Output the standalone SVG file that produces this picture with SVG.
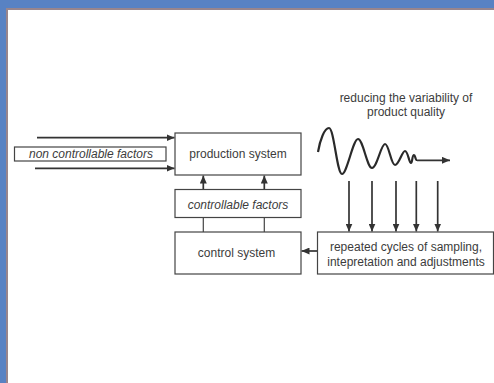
<svg xmlns="http://www.w3.org/2000/svg" width="494" height="383" viewBox="0 0 494 383">
<style>
.box{fill:#fff;stroke:#444;stroke-width:1.2}
.t{font-family:"Liberation Sans",Arial,sans-serif;font-size:12px;fill:#3c3c3c;text-anchor:middle}
.i{font-style:italic}
.ln{stroke:#333;stroke-width:1.7;fill:none}
.th{stroke:#444;stroke-width:1.2;fill:none}
</style>
<defs>
<marker id="ah" markerUnits="userSpaceOnUse" markerWidth="8" markerHeight="7" refX="8" refY="3.5" orient="auto">
<path d="M0,0 L8,3.5 L0,7 z" fill="#333"/>
</marker>
</defs>
<rect x="0" y="0" width="494" height="383" fill="#5882c3"/>
<rect x="6" y="8" width="488" height="375" fill="#98858c"/>
<rect x="8" y="10" width="486" height="373" fill="#fff"/>

<g id="connectors">
<line class="ln" x1="37" y1="137.7" x2="174.5" y2="137.7" marker-end="url(#ah)"/>
<line class="ln" x1="35" y1="168.3" x2="174.5" y2="168.3" marker-end="url(#ah)"/>
<line class="ln" x1="203.3" y1="189.5" x2="203.3" y2="175.5" marker-end="url(#ah)"/>
<line class="ln" x1="264.3" y1="189.5" x2="264.3" y2="175.5" marker-end="url(#ah)"/>
<line class="th" x1="203.3" y1="218" x2="203.3" y2="232"/>
<line class="th" x1="264.3" y1="218" x2="264.3" y2="232"/>
<line class="ln" x1="317.5" y1="251" x2="301.5" y2="251" marker-end="url(#ah)"/>
<line class="ln" x1="349" y1="181" x2="349" y2="231.5" marker-end="url(#ah)"/>
<line class="ln" x1="372" y1="181" x2="372" y2="231.5" marker-end="url(#ah)"/>
<line class="ln" x1="396" y1="181" x2="396" y2="231.5" marker-end="url(#ah)"/>
<line class="ln" x1="416.3" y1="181" x2="416.3" y2="231.5" marker-end="url(#ah)"/>
<line class="ln" x1="437.7" y1="181" x2="437.7" y2="231.5" marker-end="url(#ah)"/>
</g>

<g id="wave">
<path d="M318,152 C320,140 324.5,128 329,128 C334,128 337,174 342,174 C347,174 353,139 358,139 C363,139 367,168 372,168 C377,168 381,144 385,144 C389,144 391,165 395,165 C399,165 402,151 405,151 C408,151 409,163 411,163 C412.5,163 412,155 414,155 C415.5,155 415,160 417,160" fill="none" stroke="#2a2a2a" stroke-width="2.2"/>
<line class="ln" x1="417" y1="160.3" x2="450" y2="160.3" marker-end="url(#ah)"/>
</g>

<g id="label-reducing">
<text class="t" x="406" y="102">reducing the variability of</text>
<text class="t" x="406" y="116">product quality</text>
</g>

<g id="non-controllable">
<rect class="box" x="14.5" y="147" width="151.5" height="14"/>
<text class="t i" x="91" y="158.3">non controllable factors</text>
</g>

<g id="production">
<rect class="box" x="175" y="133" width="126" height="42"/>
<text class="t" x="238" y="158">production system</text>
</g>

<g id="controllable">
<rect class="box" x="175" y="189.5" width="126" height="28"/>
<text class="t i" x="238" y="208.5">controllable factors</text>
</g>

<g id="control">
<rect class="box" x="175" y="232" width="126" height="42"/>
<text class="t" x="236.5" y="257">control system</text>
</g>

<g id="repeated">
<rect class="box" x="317.5" y="232" width="176" height="42"/>
<text class="t" x="406" y="251">repeated cycles of sampling,</text>
<text class="t" x="406" y="265.5">intepretation and adjustments</text>
</g>
</svg>
